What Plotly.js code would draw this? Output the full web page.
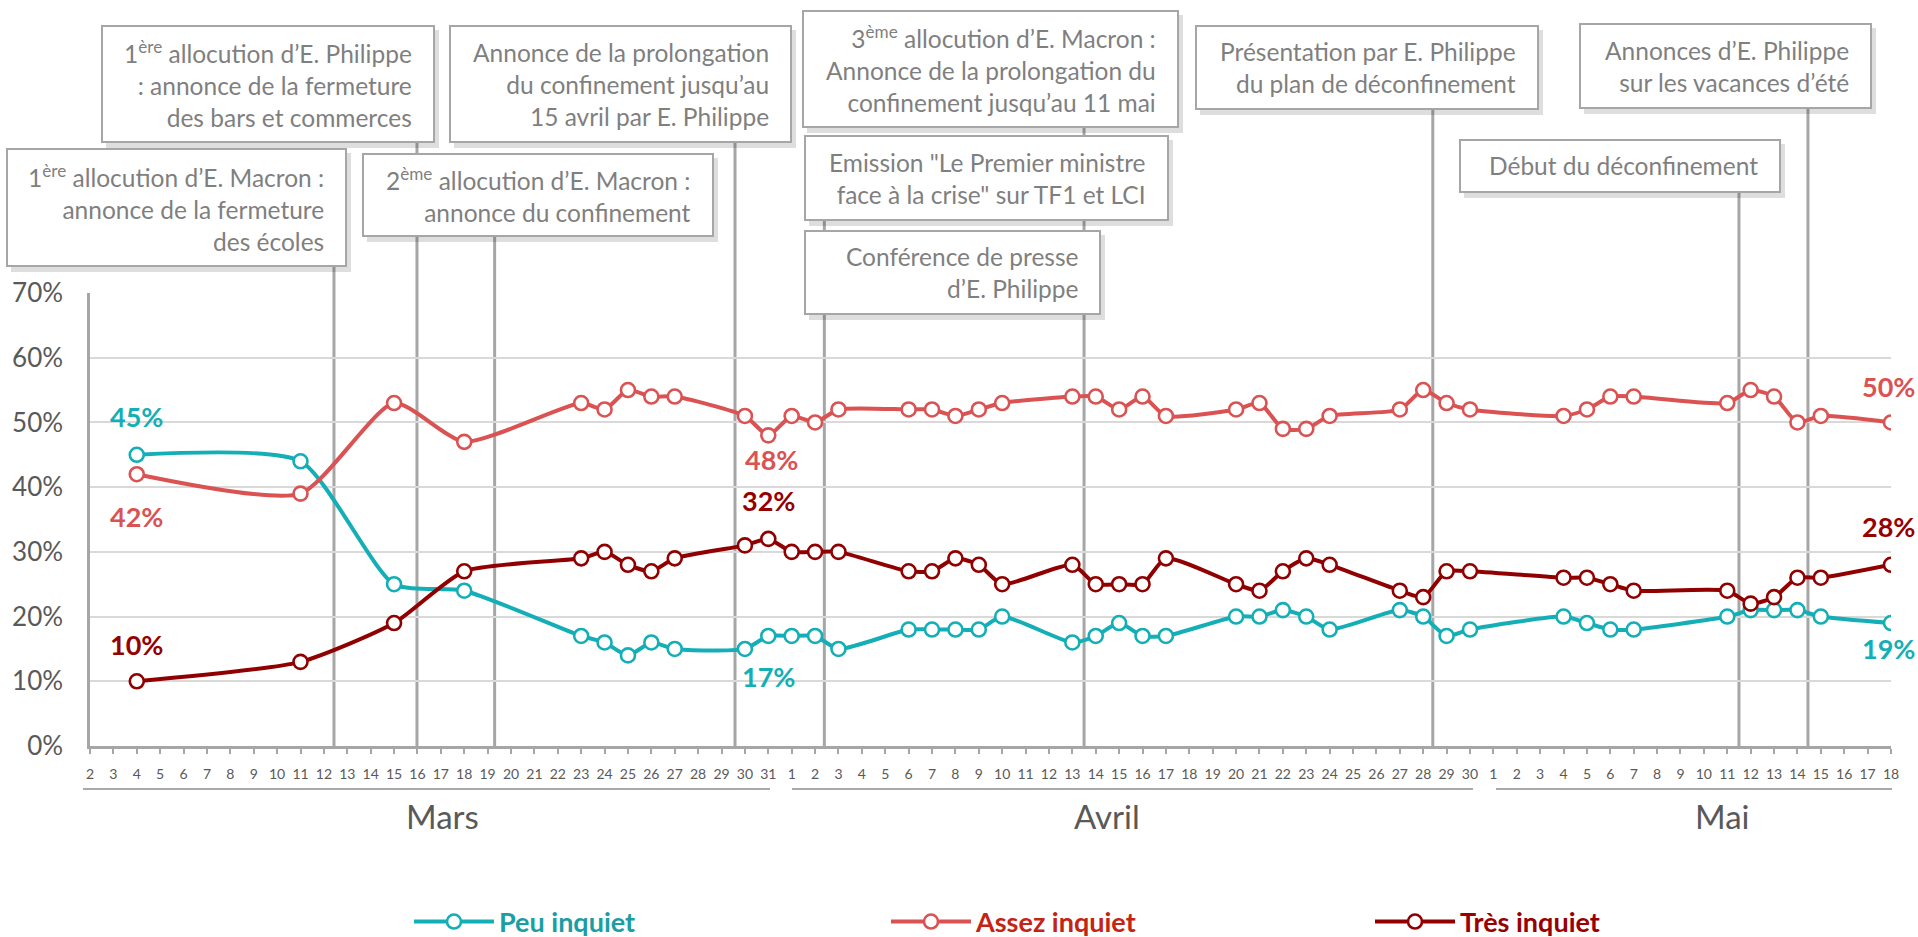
<!DOCTYPE html>
<html>
<head>
<meta charset="utf-8">
<script src="https://cdn.plot.ly/plotly-3.0.1.min.js"></script>
<style>html,body{margin:0;padding:0;background:#fff;}#chart{width:1918px;height:937px;}</style>
</head>
<body>
<div id="chart"></div>
<script>
// ---------- DATA ----------
const dates = [
  '2020-03-04','2020-03-11','2020-03-15','2020-03-18','2020-03-23','2020-03-24','2020-03-25','2020-03-26','2020-03-27','2020-03-30','2020-03-31',
  '2020-04-01','2020-04-02','2020-04-03','2020-04-06','2020-04-07','2020-04-08','2020-04-09','2020-04-10','2020-04-13','2020-04-14','2020-04-15','2020-04-16','2020-04-17','2020-04-20','2020-04-21','2020-04-22','2020-04-23','2020-04-24','2020-04-27','2020-04-28','2020-04-29','2020-04-30',
  '2020-05-04','2020-05-05','2020-05-06','2020-05-07','2020-05-11','2020-05-12','2020-05-13','2020-05-14','2020-05-15','2020-05-18'
];
const peuInquiet = [45,44,25,24,17,16,14,16,15,15,17,
  17,17,15,18,18,18,18,20,16,17,19,17,17,20,20,21,20,18,21,20,17,18,
  20,19,18,18,20,21,21,21,20,19];
const assezInquiet = [42,39,53,47,53,52,55,54,54,51,48,
  51,50,52,52,52,51,52,53,54,54,52,54,51,52,53,49,49,51,52,55,53,52,
  51,52,54,54,53,55,54,50,51,50];
const tresInquiet = [10,13,19,27,29,30,28,27,29,31,32,
  30,30,30,27,27,29,28,25,28,25,25,25,29,25,24,27,29,28,24,23,27,27,
  26,26,25,24,24,22,23,26,26,28];
const seriesNames = ['Peu inquiet','Assez inquiet','Très inquiet'];
const monthLabels = ['Mars','Avril','Mai'];
const eventDates = ['2020-03-12 10:20','2020-03-15 23:30','2020-03-19 07:12','2020-03-29 13:50','2020-04-02 09:30','2020-04-13 12:00','2020-04-28 09:50','2020-05-11 12:00','2020-05-14 10:48'];
const eventTexts = [
  '1<sup>ère</sup> allocution d’E. Philippe<br>: annonce de la fermeture<br>des bars et commerces',
  '1<sup>ère</sup> allocution d’E. Macron :<br>annonce de la fermeture<br>des écoles',
  'Annonce de la prolongation<br>du confinement jusqu’au<br>15 avril par E. Philippe',
  '2<sup>ème</sup> allocution d’E. Macron :<br>annonce du confinement',
  '3<sup>ème</sup> allocution d’E. Macron :<br>Annonce de la prolongation du<br>confinement jusqu’au 11 mai',
  'Emission "Le Premier ministre<br>face à la crise" sur TF1 et LCI',
  'Conférence de presse<br>d’E. Philippe',
  'Présentation par E. Philippe<br>du plan de déconfinement',
  'Annonces d’E. Philippe<br>sur les vacances d’été',
  'Début du déconfinement'
];

// ---------- STYLE / LAYOUT ----------
const FONT = 'Lato, "Open Sans", sans-serif';
const colors = ['#14AFB6', '#DA5252', '#910000'];
const legendColors = ['#1A9EA4', '#C42414', '#9A0000'];
const L = 90, R = 1891, T = 293, B = 746;
const px2x = p => (p - L) / (R - L);
const px2y = p => (B - p) / (B - T);

const values = [peuInquiet, assezInquiet, tresInquiet];
const legendIds = ['legend', 'legend2', 'legend3'];
const traces = values.map((v, i) => ({
  type: 'scatter', mode: 'lines+markers',
  x: dates, y: v,
  legend: legendIds[i],
  name: '<b><span style="color:' + legendColors[i] + '">' + seriesNames[i] + '</span></b>',
  line: {color: colors[i], width: 4, shape: 'spline', smoothing: 0.6},
  marker: {symbol: 'circle', size: 14, color: '#ffffff', line: {color: colors[i], width: 2.6}},
  hoverinfo: 'x+y'
}));

const shapes = [];
const annotations = [];

// event vertical lines (top pixel of each = bottom of its box)
const eventTops = [266, 142, 236, 142, 220, 127, 109, 192, 108];
eventDates.forEach((d, i) => {
  shapes.push({type: 'line', xref: 'x', yref: 'paper', x0: d, x1: d, y0: 0, y1: px2y(eventTops[i]),
    line: {color: '#a6a6a6', width: 3}, layer: 'between'});
});

// text boxes [left, top, right, bottom] in px
const boxes = [
  [102, 26, 434, 142],
  [7, 149, 346, 266],
  [450, 26, 791, 142],
  [363, 154, 713, 236],
  [803, 11, 1178, 127],
  [805, 136, 1168, 220],
  [805, 231, 1100, 314],
  [1196, 26, 1538, 109],
  [1580, 24, 1871, 108],
  [1460, 140, 1780, 192]
];
boxes.forEach((b, i) => {
  shapes.push({type: 'rect', xref: 'paper', yref: 'paper', layer: 'above',
    x0: px2x(b[0] + 4), x1: px2x(b[2] + 5), y0: px2y(b[3] + 6), y1: px2y(b[1] + 4),
    fillcolor: 'rgba(0,0,0,0.13)', line: {width: 0}});
  shapes.push({type: 'rect', xref: 'paper', yref: 'paper', layer: 'above',
    x0: px2x(b[0]), x1: px2x(b[2]), y0: px2y(b[3]), y1: px2y(b[1]),
    fillcolor: '#ffffff', line: {color: '#a6a6a6', width: 2}});
  annotations.push({xref: 'paper', yref: 'paper', x: px2x(b[2] - 20), y: px2y((b[1] + b[3]) / 2),
    xanchor: 'right', yanchor: 'middle', align: 'right', showarrow: false,
    text: eventTexts[i], font: {family: FONT, size: 24.5, color: '#7f7f7f'}});
});

// month separators and labels
const monthSpans = [[83, 770], [792, 1473], [1496, 1892]];
const monthCenters = [442, 1107, 1722];
monthLabels.forEach((m, i) => {
  shapes.push({type: 'line', xref: 'paper', yref: 'paper', layer: 'above',
    x0: px2x(monthSpans[i][0]), x1: px2x(monthSpans[i][1]), y0: px2y(789), y1: px2y(789),
    line: {color: '#8c8c8c', width: 1.5}});
  annotations.push({xref: 'paper', yref: 'paper', x: px2x(monthCenters[i]), y: px2y(816),
    xanchor: 'center', yanchor: 'middle', showarrow: false, text: m,
    font: {family: FONT, size: 33, color: '#595959'}});
});

// data labels: [series, point index, xshift, yshift]
const labelSpecs = [
  [0, 0, 0, 38], [1, 0, 0, -42], [2, 0, 0, 37],
  [1, 10, 3, -24], [2, 10, 0, 38], [0, 10, 0, -41],
  [1, 42, -3, 36], [2, 42, -3, 38], [0, 42, -3, -25]
];
const labelColors = ['#14AFB6', '#DA5252', '#950000'];
labelSpecs.forEach(s => {
  const v = values[s[0]];
  annotations.push({xref: 'x', yref: 'y', x: dates[s[1]], y: v[s[1]], xshift: s[2], yshift: s[3],
    xanchor: 'center', yanchor: 'middle', showarrow: false,
    text: '<b>' + v[s[1]] + '%</b>', font: {family: FONT, size: 27, color: labelColors[s[0]]}});
});

const legendTextStart = [504, 981, 1465];
const legendBase = {orientation: 'h', xref: 'container', yref: 'container', xanchor: 'left', yanchor: 'middle',
  y: (937 - 922) / 937, font: {family: FONT, size: 27}, bgcolor: 'rgba(0,0,0,0)', borderwidth: 0, itemwidth: 80};

const layout = {
  width: 1918, height: 937,
  margin: {l: L, r: 1918 - R, t: T, b: 937 - B, pad: 0, autoexpand: false},
  paper_bgcolor: '#ffffff', plot_bgcolor: '#ffffff',
  font: {family: FONT, color: '#595959'},
  showlegend: true,
  legend: Object.assign({}, legendBase, {x: (legendTextStart[0] - 95) / 1918}),
  legend2: Object.assign({}, legendBase, {x: (legendTextStart[1] - 95) / 1918}),
  legend3: Object.assign({}, legendBase, {x: (legendTextStart[2] - 95) / 1918}),
  xaxis: {
    type: 'date', range: ['2020-03-02', '2020-05-18'],
    tickmode: 'linear', tick0: '2020-03-02', dtick: 86400000, tickformat: '%-d',
    ticks: 'outside', ticklen: 5, tickwidth: 1.5, tickcolor: '#a6a6a6',
    showline: true, linecolor: '#a6a6a6', linewidth: 2.5,
    showgrid: false, zeroline: false,
    tickfont: {family: FONT, size: 14, color: '#595959'}, ticklabelstandoff: 8,
    fixedrange: true
  },
  yaxis: {
    range: [0, 70], dtick: 10, ticksuffix: '%',
    showgrid: true, gridcolor: '#d9d9d9', gridwidth: 1.5,
    showline: true, linecolor: '#a6a6a6', linewidth: 2.5,
    zeroline: false, ticks: '',
    tickfont: {family: FONT, size: 26, color: '#595959'}, ticklabelstandoff: 19,
    fixedrange: true
  },
  shapes: shapes,
  annotations: annotations
};

Plotly.newPlot('chart', traces, layout, {displayModeBar: false, responsive: false});
</script>
</body>
</html>
